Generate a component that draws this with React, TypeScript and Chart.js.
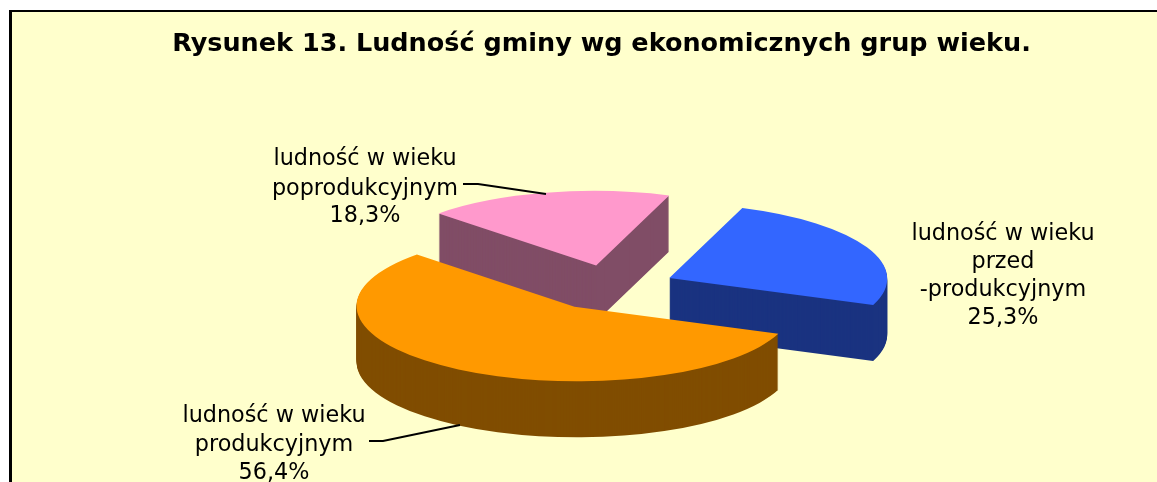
import React, { useEffect, useRef } from "react";
import { Chart, registerables } from "chart.js";

Chart.register(...registerables);

const titleText = "Rysunek 13. Ludność gminy wg ekonomicznych grup wieku.";
const categories = [
  ["ludność w wieku", "przed", "-produkcyjnym"],
  ["ludność w wieku", "produkcyjnym"],
  ["ludność w wieku", "poprodukcyjnym"],
];
const values = [25.3, 56.4, 18.3];
const topColors = ["#3366FF", "#FF9900", "#FF99CC"];
const wallColors = ["#1A3380", "#804D00", "#804D66"];

// Layout (canvas pixels; canvas origin is at page 12,12)
const CANVAS_W = 1179;
const CANVAS_H = 470;
const ORIGIN = 12;
const RADIUS = 100;
const EXPLODE = [29.5, 31.5, 29.5];
const DEPTH = 56;
const PIE_X = 611 - ORIGIN;
const PIE_Y = 287 - ORIGIN;
const TILT = [2.053, 0.258, -0.73, 0.7];
const DRAW_ORDER = [2, 0, 1];
const LABEL_FONT = '22.3px "DejaVu Sans"';
const LABEL_BOXES = [
  { x: 1003, ys: [234, 262, 290, 318] },
  { x: 274, ys: [416, 445, 473] },
  { x: 365, ys: [159, 189, 216] },
];
const LEADERS = [
  [],
  [[369, 441], [383, 441], [460, 425]],
  [[463, 184], [478, 184], [546, 194]],
];

const pie3d = {
  id: "pie3d",
  beforeDatasetsDraw(chart: any) {
    const ctx = chart.ctx;
    const arcs = chart.getDatasetMeta(0).data;
    for (const i of DRAW_ORDER) {
      const arc = arcs[i];
      const saved = arc.options;
      const mid = (arc.startAngle + arc.endAngle) / 2;
      const place = (dy: number) => {
        ctx.save();
        ctx.translate(PIE_X, PIE_Y + dy);
        ctx.transform(TILT[0], TILT[1], TILT[2], TILT[3], 0, 0);
        ctx.translate(Math.cos(mid) * EXPLODE[i] - arc.x, Math.sin(mid) * EXPLODE[i] - arc.y);
        arc.draw(ctx);
        ctx.restore();
      };
      arc.options = Object.create(saved, { backgroundColor: { value: wallColors[i] } });
      for (let dy = DEPTH; dy > 0; dy--) place(dy);
      arc.options = saved;
      place(0);
    }
    return false;
  },
  afterDraw(chart: any) {
    const ctx = chart.ctx;
    ctx.save();
    ctx.font = LABEL_FONT;
    ctx.fillStyle = "#000";
    ctx.textAlign = "center";
    ctx.textBaseline = "middle";
    values.forEach((v, i) => {
      const lines = [...categories[i], v.toFixed(1).replace(".", ",") + "%"];
      lines.forEach((t, j) => {
        ctx.fillText(t, LABEL_BOXES[i].x - ORIGIN, LABEL_BOXES[i].ys[j] - ORIGIN);
      });
      const path = LEADERS[i];
      if (path.length) {
        ctx.beginPath();
        path.forEach(([x, y], k) => {
          if (k === 0) ctx.moveTo(x - ORIGIN, y - ORIGIN);
          else ctx.lineTo(x - ORIGIN, y - ORIGIN);
        });
        ctx.strokeStyle = "#000";
        ctx.lineWidth = 2;
        ctx.stroke();
      }
    });
    ctx.restore();
  },
};

export default function App() {
  const ref = useRef<HTMLCanvasElement>(null);
  useEffect(() => {
    const chart = new Chart(ref.current as HTMLCanvasElement, {
      type: "pie",
      data: {
        labels: categories.map((c) => c.join(" ")),
        datasets: [
          {
            data: values,
            backgroundColor: topColors,
            borderWidth: 0,
          },
        ],
      },
      options: {
        animation: false,
        responsive: false,
        radius: RADIUS,
        plugins: {
          legend: { display: false },
          tooltip: { enabled: false },
          title: {
            display: true,
            text: titleText,
            color: "#000",
            font: { family: '"DejaVu Sans"', size: 25.5, weight: "bold" },
            padding: { top: 17, bottom: 10 },
          },
        },
      } as any,
      plugins: [pie3d as any],
    });
    return () => chart.destroy();
  }, []);
  return (
    <div style={{ position: "fixed", left: 0, top: 0, width: 1157, height: 482, overflow: "hidden", background: "#fff" }}>
      <div
        style={{
          position: "absolute",
          left: 9,
          top: 10,
          width: CANVAS_W + 3,
          height: CANVAS_H + 2,
          background: "#FFFFCC",
          borderLeft: "3px solid #000",
          borderTop: "2px solid #000",
          boxSizing: "border-box",
        }}
      >
        <canvas ref={ref} width={CANVAS_W} height={CANVAS_H} style={{ display: "block" }} />
      </div>
    </div>
  );
}
